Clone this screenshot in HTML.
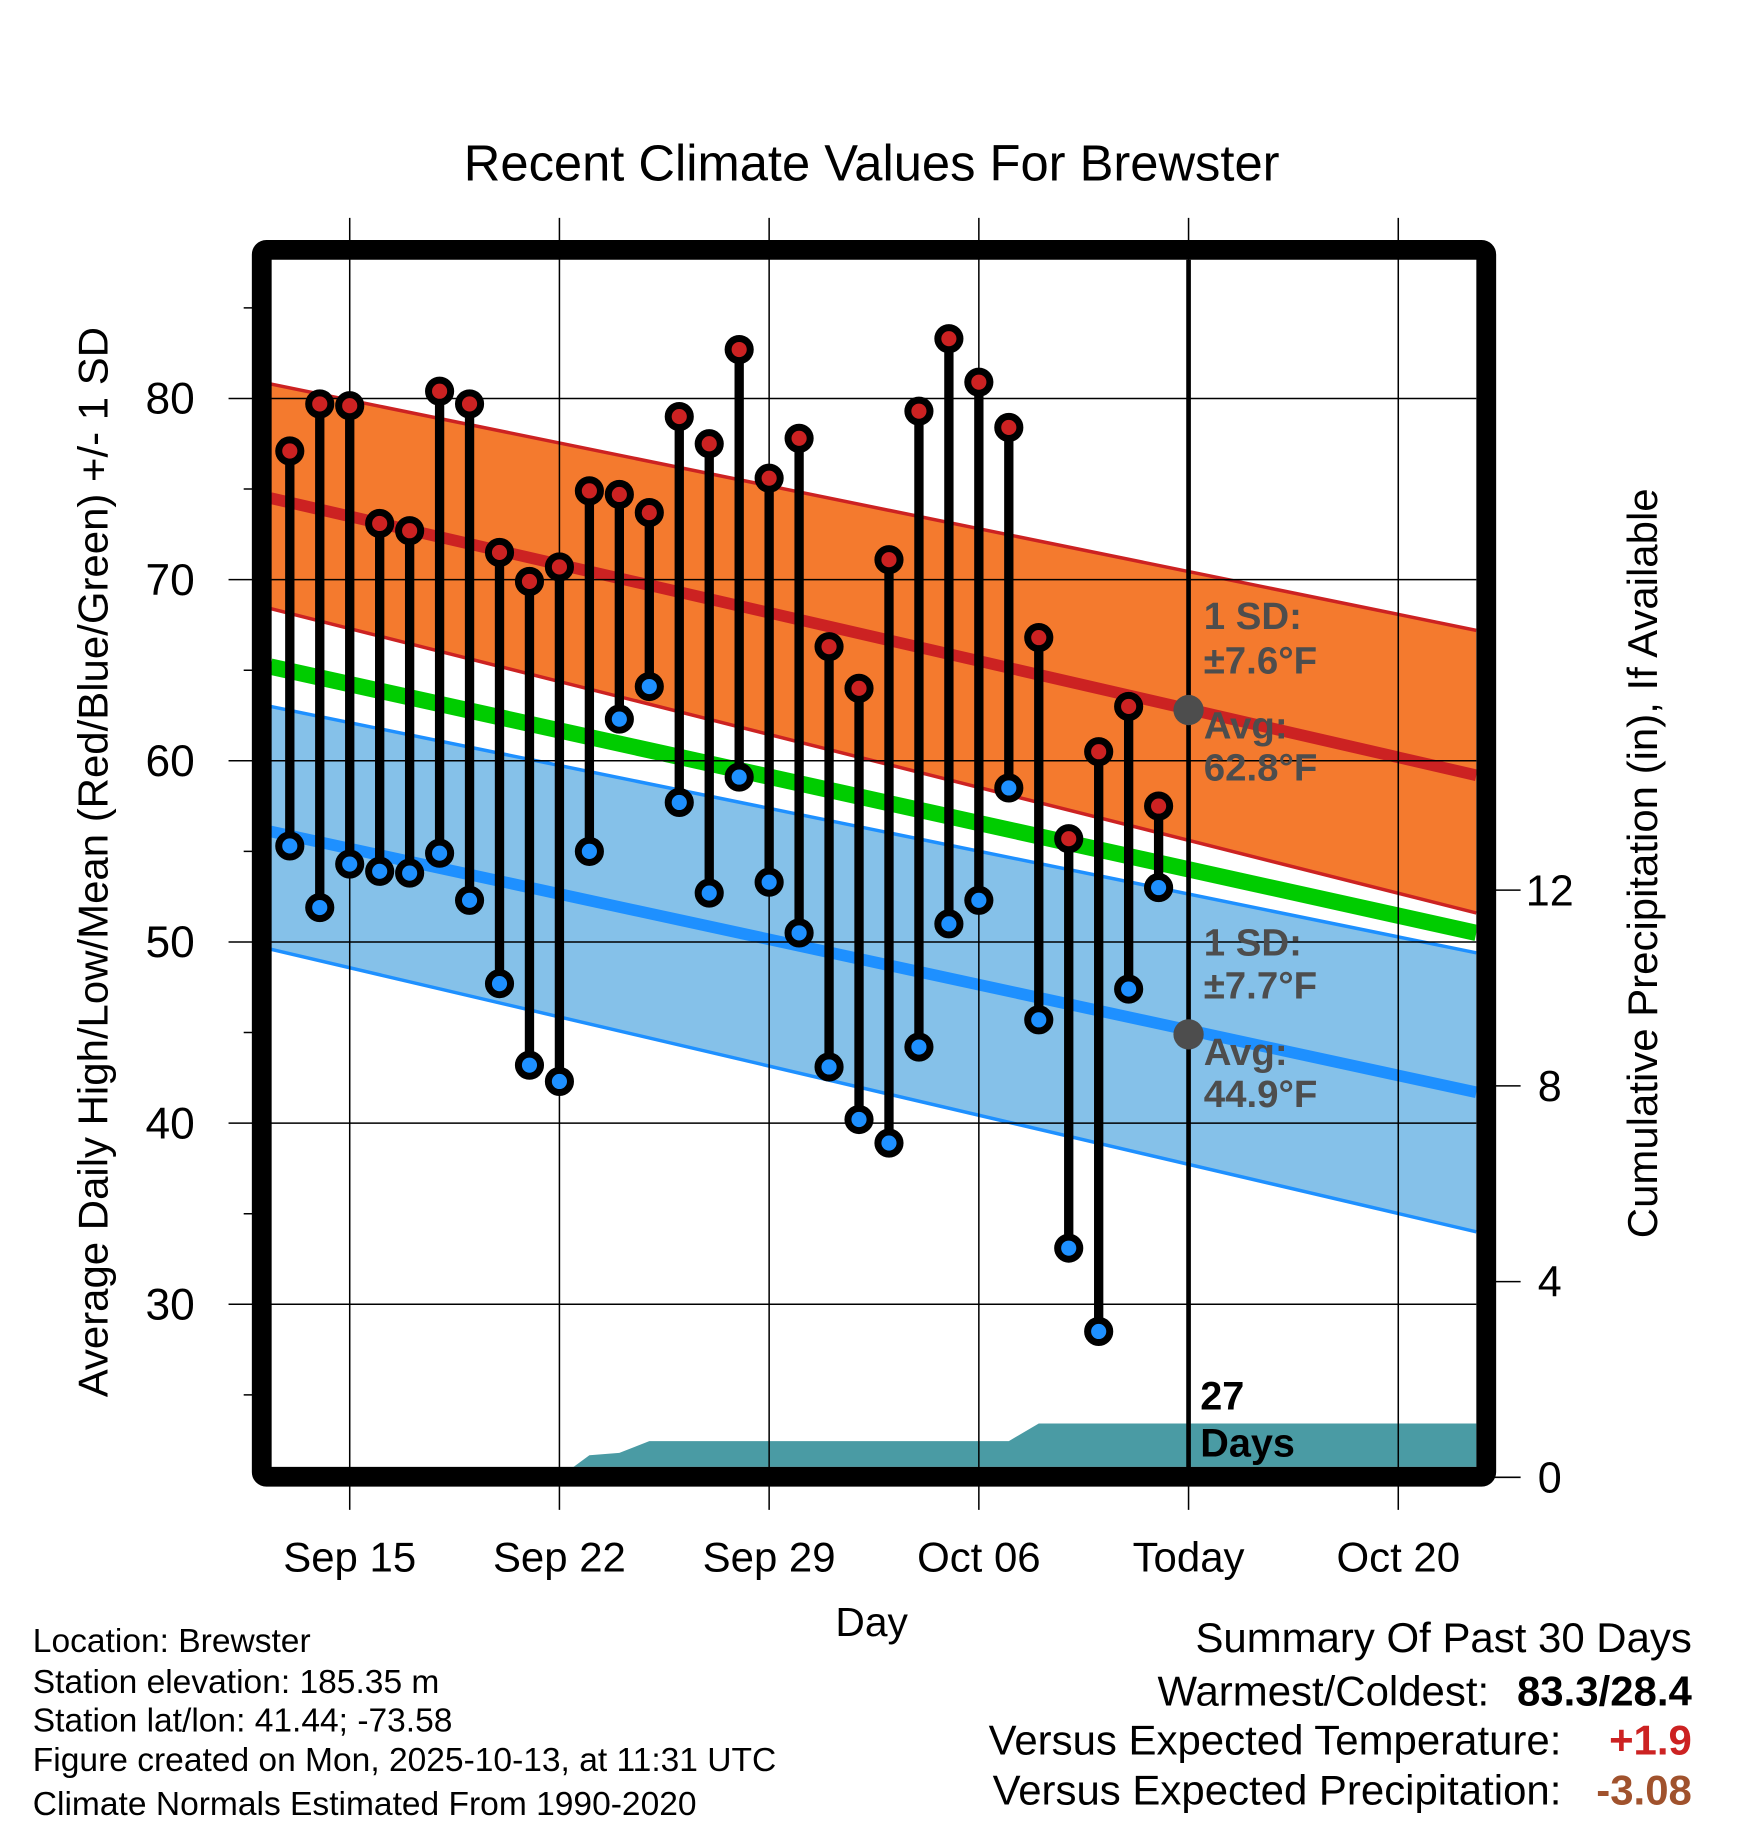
<!DOCTYPE html>
<html><head><meta charset="utf-8"><style>html,body{margin:0;padding:0;background:#fff}svg{display:block}text{font-family:"Liberation Sans",Arial,sans-serif}</style></head>
<body>
<svg id="chart" width="1748" height="1828" viewBox="0 0 1500 1569" xmlns="http://www.w3.org/2000/svg">
<defs><clipPath id="plotclip"><rect x="232" y="223" width="1035" height="1036"/></clipPath></defs>
<text x="748" y="155" font-size="43.5" text-anchor="middle">Recent Climate Values For Brewster</text>
<g id="plot" clip-path="url(#plotclip)"></g>
<g id="over"></g>
<text x="748" y="1404" font-size="35" text-anchor="middle">Day</text>
<text transform="translate(92,740) rotate(-90)" font-size="36" text-anchor="middle">Average Daily High/Low/Mean (Red/Blue/Green) +/- 1 SD</text>
<text transform="translate(1422,741) rotate(-90)" font-size="36" text-anchor="middle">Cumulative Precipitation (in), If Available</text>
<g font-size="28.8">
<text x="28" y="1418">Location: Brewster</text>
<text x="28" y="1453">Station elevation: 185.35 m</text>
<text x="28" y="1486">Station lat/lon: 41.44; -73.58</text>
<text x="28" y="1520">Figure created on Mon, 2025-10-13, at 11:31 UTC</text>
<text x="28" y="1558">Climate Normals Estimated From 1990-2020</text>
</g>
<g font-size="36">
<text x="1452" y="1418" text-anchor="end">Summary Of Past 30 Days</text>
<text x="1278" y="1464" text-anchor="end">Warmest/Coldest:</text>
<text x="1452" y="1464" text-anchor="end" font-weight="bold">83.3/28.4</text>
<text x="1340" y="1506" text-anchor="end">Versus Expected Temperature:</text>
<text x="1452" y="1506" text-anchor="end" font-weight="bold" fill="#cc2222">+1.9</text>
<text x="1340" y="1549" text-anchor="end">Versus Expected Precipitation:</text>
<text x="1452" y="1549" text-anchor="end" font-weight="bold" fill="#a0522d">-3.08</text>
</g>
<script>
// data (day offsets relative to Sep 15)
const highs=[77.1,79.7,79.6,73.1,72.7,80.4,79.7,71.5,69.9,70.7,74.9,74.7,73.7,79.0,77.5,82.7,75.6,77.8,66.3,64.0,71.1,79.3,83.3,80.9,78.4,66.8,55.7,60.5,63.0,57.5];
const lows=[55.3,51.9,54.3,53.9,53.8,54.9,52.3,47.7,43.2,42.3,55.0,62.3,64.1,57.7,52.7,59.1,53.3,50.5,43.1,40.2,38.9,44.2,51.0,52.3,58.5,45.7,33.1,28.5,47.4,53.0];
const firstDay=-2;
const precip=[0,0,0,0,0,0,0,0,0,0,0.45,0.5,0.74,0.74,0.74,0.74,0.74,0.74,0.74,0.74,0.74,0.74,0.74,0.74,0.74,1.1,1.1,1.1,1.1,1.1,1.1,1.1,1.1,1.1,1.1,1.1,1.1,1.1,1.1,1.1,1.1];
// normals at left edge / right edge of plot
const highUpper=[80.8,67.2], highMean=[74.5,59.2], highLower=[68.4,51.6];
const meanLine=[65.2,50.5];
const lowUpper=[63.0,49.4], lowMean=[56.1,41.7], lowLower=[49.6,34.0];
const xTickDays=[0,7,14,21,28,35];
const xTickLabels=["Sep 15","Sep 22","Sep 29","Oct 06","Today","Oct 20"];
const yTicks=[30,40,50,60,70,80];
const pTicks=[0,4,8,12];
const todayDay=28;
const todayHigh=62.8, todayLow=44.9;

const X0=232,X1=1267;
const xs=d=>300+d*25.714;
const ys=v=>342+(80-v)*15.55;
const yp=p=>1268-p*42;
const NS='http://www.w3.org/2000/svg';
function mk(par,tag,attrs){const e=document.createElementNS(NS,tag);for(const k in attrs)e.setAttribute(k,attrs[k]);par.appendChild(e);return e;}
const plot=document.getElementById('plot'), over=document.getElementById('over'), svg=document.getElementById('chart');
function band(up,lo,fill,name){const e=mk(plot,'polygon',{points:`${X0},${ys(up[0])} ${X1},${ys(up[1])} ${X1},${ys(lo[1])} ${X0},${ys(lo[0])}`,fill:fill});

}
function line(v,col,w,name){const e=mk(plot,'line',{x1:X0,y1:ys(v[0]),x2:X1,y2:ys(v[1]),stroke:col,'stroke-width':w});

}
band(highUpper,highLower,'#f47a2e','high-sd-band');
band(lowUpper,lowLower,'#85c1e9','low-sd-band');
line(highUpper,'#cc2222',3,'high-upper-line');line(highLower,'#cc2222',3,'high-lower-line');
line(lowUpper,'#1e90ff',3,'low-upper-line');line(lowLower,'#1e90ff',3,'low-lower-line');
line(highMean,'#cc2222',10,'high-mean-line');line(lowMean,'#1e90ff',10,'low-mean-line');
line(meanLine,'#00cc00',14,'mean-line');
// precip
let pts=[];precip.forEach((p,i)=>pts.push(`${xs(firstDay+i)},${yp(p)}`));
const pp=mk(plot,'polygon',{points:`${xs(firstDay)},1270 ${pts.join(' ')} ${xs(firstDay+precip.length-1)},1270`,fill:'#4a9ba4'});


// grid
xTickDays.forEach(d=>{const g=mk(svg,'line',{x1:xs(d),y1:187,x2:xs(d),y2:1296,stroke:'#000','stroke-width':1.3});


svg.insertBefore(g,over);});
yTicks.forEach(v=>{const g=mk(svg,'line',{x1:196,y1:ys(v),x2:1267,y2:ys(v),stroke:'#000','stroke-width':1.3});


svg.insertBefore(g,over);});
for(let v=25;v<=85;v+=5){if(v%10){const t=mk(svg,'line',{x1:209,y1:ys(v),x2:224,y2:ys(v),stroke:'#000','stroke-width':1.3});

}}
// today line
const tl=mk(over,'line',{x1:xs(todayDay),y1:223,x2:xs(todayDay),y2:1260,stroke:'#000','stroke-width':4});


// stems & markers
highs.forEach((h,i)=>{const x=xs(firstDay+i);
const s=mk(over,'line',{x1:x,y1:ys(h),x2:x,y2:ys(lows[i]),stroke:'#000','stroke-width':8});

});
highs.forEach((h,i)=>{const x=xs(firstDay+i);
const a=mk(over,'circle',{cx:x,cy:ys(h),r:9.5,fill:'#cc2222',stroke:'#000','stroke-width':6});


const b=mk(over,'circle',{cx:x,cy:ys(lows[i]),r:9.5,fill:'#1e90ff',stroke:'#000','stroke-width':6});

});
[todayHigh,todayLow].forEach(v=>{const c=mk(over,'circle',{cx:xs(todayDay),cy:ys(v),r:13,fill:'#4d4d4d'});

});
// annotations
const ann=[["1 SD:",540],["±7.6°F",578],["Avg:",634],[todayHigh.toFixed(1)+"°F",670],["1 SD:",820],["±7.7°F",857],["Avg:",914],[todayLow.toFixed(1)+"°F",950]];
ann.forEach(([t,y])=>{const e=mk(over,'text',{x:1033,y:y,'font-size':33,'font-weight':'bold',fill:'#4d4d4d'});e.textContent=t;

});
[["27",1210],["Days",1250]].forEach(([t,y])=>{const e=mk(over,'text',{x:1030,y:y,'font-size':34,'font-weight':'bold',fill:'#000'});e.textContent=t;

});
// frame
const fr=mk(over,'rect',{x:224.5,y:214.5,width:1051,height:1053,fill:'none',stroke:'#000','stroke-width':17,rx:4});


// tick labels
xTickDays.forEach((d,i)=>{const e=mk(svg,'text',{x:xs(d),y:1349,'font-size':36,'text-anchor':'middle'});e.textContent=xTickLabels[i];

});
yTicks.forEach(v=>{const e=mk(svg,'text',{x:167,y:ys(v)+13,'font-size':38,'text-anchor':'end'});e.textContent=v;

});
pTicks.forEach(p=>{const t=mk(svg,'line',{x1:1283,y1:yp(p),x2:1305,y2:yp(p),stroke:'#000','stroke-width':1.3});


const e=mk(svg,'text',{x:1330,y:yp(p)+13,'font-size':37,'text-anchor':'middle'});e.textContent=p;

});
</script>
</svg>
</body></html>
